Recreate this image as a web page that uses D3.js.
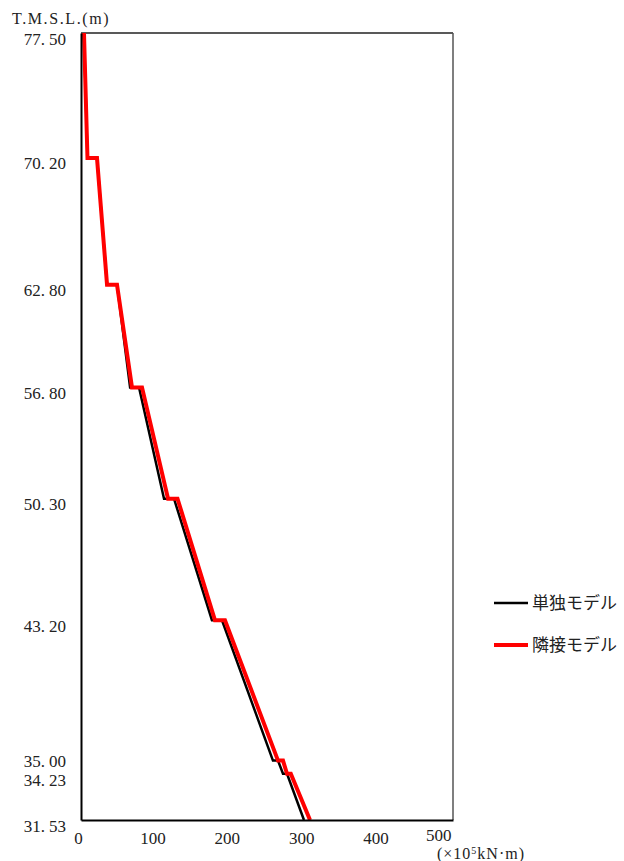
<!DOCTYPE html>
<html><head><meta charset="utf-8">
<script src="https://cdn.jsdelivr.net/npm/d3@7"></script>
<style>body{margin:0;background:#fff}svg{display:block}</style>
</head><body>
<script>
// Elevation (T.M.S.L., m) of each vertex of the moment profiles
const depth = [77.50,70.20,70.20,62.80,62.80,56.80,56.80,50.30,50.30,43.20,43.20,35.00,35.00,34.23,34.23,31.53];
// 単独モデル (x10^5 kN·m)
const singleModel = [4,8.7,21.5,35,48.4,66,78,111.6,125,176,189.5,258,264.8,271.5,276.9,299.7];
// 隣接モデル (x10^5 kN·m)
const adjacentModel = [4,8.7,21.5,35,48.4,68.5,82,117,129.7,180,193.5,264.8,271.5,276.9,282,307.8];
const yTicks = [77.50,70.20,62.80,56.80,50.30,43.20,35.00,34.23,31.53];
const xTicks = [0,100,200,300,400,500];
const seriesNames = ["単独モデル","隣接モデル"];
const seriesColors = ["#000000","#ff0000"];

const W=624,H=861;
const L=81,R=453,T=33,B=820;
const svg=d3.select("body").append("svg").attr("width",W).attr("height",H);
const x=d3.scaleLinear().domain([0,500]).range([L,R]);
const y=d3.scaleLinear().domain([31.53,77.50]).range([B,T]);
const numFont="'Liberation Serif','DejaVu Serif',serif";
const jpFont="'Noto Sans CJK JP','Noto Sans CJK SC',sans-serif";

// frame
svg.append("line").attr("x1",L).attr("x2",R).attr("y1",T).attr("y2",T).attr("stroke","#222").attr("stroke-width",1.5);
svg.append("line").attr("x1",R).attr("x2",R).attr("y1",T).attr("y2",B).attr("stroke","#555").attr("stroke-width",1.5);

// series
const line=d3.line().x(d=>x(d[0])).y(d=>y(d[1]));
const series=[singleModel,adjacentModel];
series.forEach((vals,i)=>{
  svg.append("path").datum(vals.map((v,j)=>[v,depth[j]]))
    .attr("d",line).attr("fill","none")
    .attr("stroke",seriesColors[i]).attr("stroke-width",i===0?2.5:4)
    .attr("stroke-linejoin","miter");
});

// axes
const fmt=d3.format(".2f");
const yAxis=svg.append("g").attr("transform",`translate(${L},0)`)
  .call(d3.axisLeft(y).tickValues(yTicks).tickSize(0).tickPadding(15).tickFormat(""));
yAxis.select(".domain").attr("stroke","#000").attr("stroke-width",2);
const yOff = d => d===35.00 ? 2 : (d===34.23 ? 8 : 7);
yAxis.selectAll(".tick text").each(function(d){
  const t=d3.select(this).text(null)
    .attr("font-family",numFont).attr("font-size",17).attr("fill","#222")
    .attr("dy",null).attr("y",yOff(d)).attr("dominant-baseline","middle");
  const s=fmt(d).split(".");
  t.append("tspan").text(s[0]+".");
  t.append("tspan").attr("dx",4).text(s[1]);
});

const xAxis=svg.append("g").attr("transform",`translate(0,${B})`)
  .call(d3.axisBottom(x).tickValues(xTicks).tickSize(0).tickPadding(12).tickFormat(d3.format("d")));
xAxis.select(".domain").attr("stroke","#000").attr("stroke-width",2);
xAxis.selectAll("text").attr("font-family",numFont).attr("font-size",17).attr("fill","#222")
  .attr("dx",-3)
  .filter(d=>d===500).attr("text-anchor","end").attr("dx",-2).attr("dy","0.5em");

// axis titles
svg.append("text").attr("x",12).attr("y",24).attr("font-family",numFont).attr("font-size",16).attr("fill","#222")
  .attr("letter-spacing",1.6).text("T.M.S.L.(m)");
const xt=svg.append("text").attr("x",437).attr("y",859).attr("font-family",numFont).attr("font-size",16).attr("fill","#222")
  .attr("letter-spacing",1);
xt.append("tspan").text("(×10");
xt.append("tspan").attr("dy",-5).attr("font-size",10).text("5");
xt.append("tspan").attr("dy",5).text("kN·m)");

// legend
seriesNames.forEach((n,i)=>{
  const ly=603+i*42;
  svg.append("line").attr("x1",494).attr("x2",528).attr("y1",ly).attr("y2",ly)
    .attr("stroke",seriesColors[i]).attr("stroke-width",i===0?2.5:4);
  svg.append("text").attr("x",532).attr("y",ly).attr("dy","0.35em")
    .attr("font-family",jpFont).attr("font-size",17).attr("fill","#222").text(n);
});
</script>
</body></html>
